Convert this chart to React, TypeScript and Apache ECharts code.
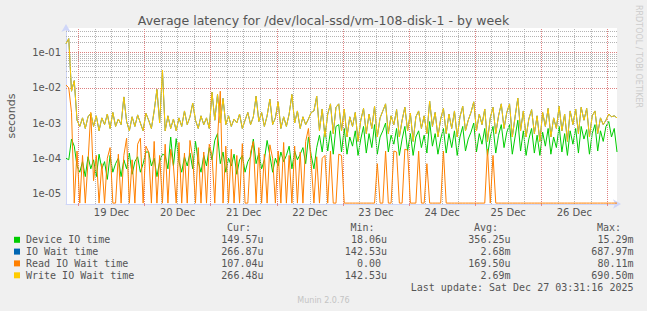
import React, { useEffect, useRef } from "react";
import * as echarts from "echarts";

const TITLE = "Average latency for /dev/local-ssd/vm-108-disk-1 - by week";
const Y_NAME = "seconds";
const DAY_LABELS = ["19 Dec", "20 Dec", "21 Dec", "22 Dec", "23 Dec", "24 Dec", "25 Dec", "26 Dec"];
// hours relative to 19 Dec 00:00
const DAY_LABEL_HOURS = [12, 36, 60, 84, 108, 132, 156, 180];
const MIDNIGHT_HOURS = [0, 24, 48, 72, 96, 120, 144, 168, 192];
const SIX_HOUR_MARKS = [6, 12, 18, 30, 36, 42, 54, 60, 66, 78, 84, 90, 102, 108, 114, 126, 132, 138, 150, 156, 162, 174, 180, 186];
const Y_TICKS = [1e-5, 1e-4, 1e-3, 1e-2, 1e-1];
const X_MIN = -4.5;
const X_MAX = 195.5;
const Y_MIN = 5e-6;
const Y_MAX = 0.5;
const FIRST_SAMPLE_HOUR = -4.5;
const SAMPLE_STEP_HOURS = 1;

const deviceIo = [
  1.0e-4, 9e-5, 3.5e-4, 2.2e-4, 6e-5, 4e-5, 8e-5, 3e-5, 1.1e-4, 5e-5,
  9e-5, 3e-5, 1.3e-4, 5e-5, 8e-5, 2.5e-5, 1.2e-4, 4e-5, 7e-5, 1.0e-4,
  3e-5, 9e-5, 5e-5, 1.4e-4, 3.5e-5, 8e-5, 1.1e-4, 4e-5, 7e-5, 1.5e-4,
  1.5e-4, 6e-5, 1.0e-4, 3e-5, 8e-5, 1.3e-4, 1.2e-4, 5e-5, 4e-4, 6e-5,
  3.6e-4, 8e-5, 4e-5, 1.1e-4, 6e-5, 1.4e-4, 5e-5, 3e-4, 8e-5, 4e-5,
  1.2e-4, 6e-5, 2e-4, 9e-5, 3.2e-4, 5e-4, 7e-5, 1.5e-4, 4e-5, 1.0e-4,
  6e-5, 1.3e-4, 3.5e-5, 9e-5, 1.2e-4, 4e-5, 8e-5, 1.1e-4, 3.5e-4, 7e-5,
  1.4e-4, 5e-5, 9e-5, 3.2e-4, 1.2e-4, 4e-5, 1.0e-4, 6e-5, 1.5e-4, 8e-5,
  1.2e-4, 2.2e-4, 5e-5, 1.6e-4, 9e-5, 1.3e-4, 2e-4, 7e-5, 4e-4, 1.2e-4,
  5e-5, 2.0e-4, 4.5e-4, 1.5e-4, 7e-4, 1.6e-4, 6e-4, 1.3e-4, 8e-4, 9e-4,
  1.5e-4, 7e-4, 1.3e-4, 4e-4, 2.2e-4, 6e-4, 1.2e-4, 3.5e-4, 8e-4, 1.4e-4,
  5e-4, 2e-4, 9e-4, 1.3e-4, 4e-4, 6e-4, 1.0e-3, 1.5e-4, 4.5e-4, 2.5e-4,
  7e-4, 1.2e-4, 3.5e-4, 8e-4, 1.6e-4, 5e-4, 1.2e-4, 4e-4, 6e-4, 2e-4,
  4.5e-4, 1.4e-4, 1.1e-3, 2.2e-4, 5e-4, 1.3e-4, 3.5e-4, 7e-4, 1.4e-4, 5e-4,
  2e-4, 6e-4, 1.2e-4, 4e-4, 8e-4, 1.6e-4, 3.5e-4, 5.5e-4, 1.0e-3, 1.5e-4,
  5e-4, 2.5e-4, 7e-4, 1.2e-4, 4e-4, 8e-4, 1.4e-4, 4.5e-4, 9e-4, 2e-4,
  5.5e-4, 9e-4, 1.3e-4, 4e-4, 1.2e-3, 1.6e-4, 6e-4, 1.2e-4, 3.5e-4, 7e-4,
  1.4e-4, 4.5e-4, 1.2e-4, 5.5e-4, 2.2e-4, 7e-4, 1.3e-4, 4e-4, 2e-4, 8e-4,
  1.5e-4, 5e-4, 1.2e-4, 6e-4, 2.5e-4, 7e-4, 1.4e-4, 8e-4, 3.5e-4, 6.5e-4,
  1.3e-4, 5e-4, 9e-4, 1.6e-4, 6e-4, 3e-4, 8e-4, 1.1e-3, 4e-4, 7e-4, 1.5e-4,
];

const ioWait = [
  1.8e-1, 2.5e-1, 8e-3, 1.6e-2, 1.2e-3, 8e-4, 1.4e-3, 7e-4, 1.5e-3, 1.9e-3,
  8e-4, 1.6e-3, 6e-4, 1.4e-3, 9e-4, 1.8e-3, 7e-4, 2.0e-3, 8e-4, 1.3e-3,
  9e-4, 5.5e-3, 1.1e-3, 6e-4, 1.5e-3, 8e-4, 1.7e-3, 1.0e-3, 6e-4, 1.9e-3,
  1.2e-3, 7e-4, 2.2e-3, 9e-3, 1.0e-3, 3.2e-2, 6e-4, 1.6e-3, 7e-4, 1.3e-3,
  6e-4, 1.4e-3, 8e-4, 2.2e-3, 9e-4, 1.5e-3, 3.7e-3, 1.2e-3, 7e-4, 1.6e-3,
  9e-4, 1.4e-3, 7e-4, 7.5e-3, 1.2e-3, 6.5e-3, 1.0e-3, 5e-3, 9e-4, 1.6e-3,
  8e-4, 1.3e-3, 1.0e-3, 1.8e-3, 7e-4, 1.2e-3, 2.0e-3, 9e-4, 1.5e-3, 5.8e-3,
  1.1e-3, 2.0e-3, 8e-4, 1.6e-3, 4.8e-3, 9e-4, 1.4e-3, 4.0e-3, 7e-4, 1.5e-3,
  8e-4, 1.8e-3, 6.5e-3, 1.0e-3, 2.2e-3, 7e-4, 1.5e-3, 9e-4, 1.3e-3, 2.0e-3,
  2.2e-3, 5.8e-3, 6e-4, 2.5e-3, 4e-4, 1.8e-3, 3.5e-3, 5e-4, 2.8e-3, 3.5e-3,
  6e-4, 2.5e-3, 4e-4, 1.5e-3, 8e-4, 2.0e-3, 3e-4, 1.2e-3, 2.6e-3, 5e-4,
  1.8e-3, 7e-4, 3.0e-3, 4e-4, 1.4e-3, 2.2e-3, 3.5e-3, 5e-4, 1.6e-3, 9e-4,
  2.4e-3, 4e-4, 1.2e-3, 2.8e-3, 6e-4, 1.9e-3, 3e-4, 1.5e-3, 2.2e-3, 7e-4,
  1.6e-3, 5e-4, 4.2e-3, 8e-4, 2.0e-3, 4e-4, 1.3e-3, 2.6e-3, 5e-4, 1.8e-3,
  7e-4, 2.2e-3, 4e-4, 1.5e-3, 3.0e-3, 6e-4, 1.2e-3, 2.0e-3, 4.0e-3, 6e-4,
  1.8e-3, 9e-4, 2.5e-3, 3e-4, 1.4e-3, 2.8e-3, 5e-4, 1.6e-3, 3.5e-3, 7e-4,
  2.0e-3, 3.5e-3, 4e-4, 1.5e-3, 5.1e-3, 6e-4, 2.2e-3, 4e-4, 1.3e-3, 2.4e-3,
  5e-4, 1.6e-3, 3e-4, 2.0e-3, 8e-4, 2.6e-3, 4e-4, 1.4e-3, 7e-4, 3.0e-3,
  6e-4, 1.8e-3, 3e-4, 2.2e-3, 9e-4, 2.5e-3, 5e-4, 2.8e-3, 1.2e-3, 2.6e-3,
  4e-4, 1.6e-3, 2.2e-3, 5e-4, 1.4e-3, 9e-4, 1.2e-3, 1.8e-3, 1.5e-3, 1.6e-3, 1.4e-3,
];

const readIoWait = [
  1.2e-2, 1.0e-2, 2e-3, 0, 1.6e-4, 0, 1.2e-4, 0, 8e-5, 2e-3,
  2.3e-5, 1.2e-4, 0, 7e-5, 0, 1e-4, 2e-4, 0, 0, 1.3e-4,
  0, 1.2e-4, 3.7e-4, 0, 9e-5, 0, 2.5e-4, 3.7e-4, 0, 2.2e-4,
  1.5e-4, 0, 3e-4, 0, 1.2e-4, 0, 2.5e-4, 0, 1.8e-4, 6e-5,
  0, 2.8e-4, 0, 1.4e-4, 0, 3.2e-4, 1.0e-4, 0, 2.0e-4, 0,
  1.5e-4, 0, 2.5e-4, 1.2e-4, 0, 3.5e-4, 8e-3, 0, 2.2e-4, 0,
  1.8e-4, 0, 1.2e-4, 0, 2.6e-4, 0, 0, 1.5e-4, 3e-4, 0,
  2e-4, 0, 1.3e-4, 0, 2.4e-4, 1e-4, 0, 1.6e-4, 0, 2.8e-4,
  0, 1.2e-4, 0, 2.2e-4, 0, 1.5e-4, 0, 3e-4, 7e-4, 7e-5,
  0, 1.1e-4, 0, 1.0e-4, 1.2e-4, 0, 1.6e-4, 0, 0, 1.3e-4,
  1.2e-4, 0, 0, 0, 0, 0, 0, 0, 0, 0,
  0, 0, 0, 7e-5, 0, 0, 1.6e-4, 0, 0, 1.6e-4,
  1.5e-4, 0, 0, 1.8e-4, 1.7e-4, 0, 0, 0, 1.6e-4, 0,
  0, 7e-5, 0, 0, 0, 0, 0, 1.6e-4, 0, 0,
  0, 0, 0, 0, 0, 0, 0, 0, 0, 0,
  0, 0, 0, 1.8e-4, 0, 1.2e-4, 0, 0, 0, 0,
  0, 0, 0, 0, 0, 0, 0, 0, 0, 0,
  0, 0, 0, 0, 0, 0, 0, 0, 0, 0,
  0, 0, 0, 0, 0, 0, 0, 0, 0, 0,
  0, 0, 0, 0, 0, 0, 0, 0, 0, 0, 0,
];

const writeIoWait = [
  1.8e-1, 2.5e-1, 8e-3, 1.6e-2, 1.2e-3, 8e-4, 1.4e-3, 7e-4, 1.5e-3, 1.9e-3,
  8e-4, 1.6e-3, 6e-4, 1.4e-3, 9e-4, 1.8e-3, 7e-4, 2.0e-3, 8e-4, 1.3e-3,
  9e-4, 5.5e-3, 1.1e-3, 6e-4, 1.5e-3, 8e-4, 1.7e-3, 1.0e-3, 6e-4, 1.9e-3,
  1.2e-3, 7e-4, 2.2e-3, 9e-3, 1.0e-3, 3.2e-2, 6e-4, 1.6e-3, 7e-4, 1.3e-3,
  6e-4, 1.4e-3, 8e-4, 2.2e-3, 9e-4, 1.5e-3, 3.7e-3, 1.2e-3, 7e-4, 1.6e-3,
  9e-4, 1.4e-3, 7e-4, 7.5e-3, 1.2e-3, 6.5e-3, 1.0e-3, 5e-3, 9e-4, 1.6e-3,
  8e-4, 1.3e-3, 1.0e-3, 1.8e-3, 7e-4, 1.2e-3, 2.0e-3, 9e-4, 1.5e-3, 5.8e-3,
  1.1e-3, 2.0e-3, 8e-4, 1.6e-3, 4.8e-3, 9e-4, 1.4e-3, 4.0e-3, 7e-4, 1.5e-3,
  8e-4, 1.8e-3, 6.5e-3, 1.0e-3, 2.2e-3, 7e-4, 1.5e-3, 9e-4, 1.3e-3, 2.0e-3,
  2.2e-3, 5.8e-3, 6e-4, 2.5e-3, 4e-4, 1.8e-3, 3.5e-3, 5e-4, 2.8e-3, 3.5e-3,
  6e-4, 2.5e-3, 4e-4, 1.5e-3, 8e-4, 2.0e-3, 3e-4, 1.2e-3, 2.6e-3, 5e-4,
  1.8e-3, 7e-4, 3.0e-3, 4e-4, 1.4e-3, 2.2e-3, 3.5e-3, 5e-4, 1.6e-3, 9e-4,
  2.4e-3, 4e-4, 1.2e-3, 2.8e-3, 6e-4, 1.9e-3, 3e-4, 1.5e-3, 2.2e-3, 7e-4,
  1.6e-3, 5e-4, 4.2e-3, 8e-4, 2.0e-3, 4e-4, 1.3e-3, 2.6e-3, 5e-4, 1.8e-3,
  7e-4, 2.2e-3, 4e-4, 1.5e-3, 3.0e-3, 6e-4, 1.2e-3, 2.0e-3, 4.0e-3, 6e-4,
  1.8e-3, 9e-4, 2.5e-3, 3e-4, 1.4e-3, 2.8e-3, 5e-4, 1.6e-3, 3.5e-3, 7e-4,
  2.0e-3, 3.5e-3, 4e-4, 1.5e-3, 5.1e-3, 6e-4, 2.2e-3, 4e-4, 1.3e-3, 2.4e-3,
  5e-4, 1.6e-3, 3e-4, 2.0e-3, 8e-4, 2.6e-3, 4e-4, 1.4e-3, 7e-4, 3.0e-3,
  6e-4, 1.8e-3, 3e-4, 2.2e-3, 9e-4, 2.5e-3, 5e-4, 2.8e-3, 1.2e-3, 2.6e-3,
  4e-4, 1.6e-3, 2.2e-3, 5e-4, 1.4e-3, 9e-4, 1.2e-3, 1.8e-3, 1.5e-3, 1.6e-3, 1.4e-3,
];

const SERIES_NAMES = ["Device IO time", "IO Wait time", "Read IO Wait time", "Write IO Wait time"];
const SERIES_COLORS = ["#00CC00", "#0066B3", "#FF8000", "#FFCC00"];
const LEGEND_HEADERS = ["Cur:", "Min:", "Avg:", "Max:"];
const CUR = ["149.57u", "266.87u", "107.04u", "266.48u"];
const MIN = ["18.06u", "142.53u", "0.00", "142.53u"];
const AVG = ["356.25u", "2.68m", "169.50u", "2.69m"];
const MAX = ["15.29m", "687.97m", "80.11m", "690.50m"];
const LAST_UPDATE = "Last update: Sat Dec 27 03:31:16 2025";
const FOOTER = "Munin 2.0.76";
const SIDE_TEXT = "RRDTOOL / TOBI OETIKER";

// zero readings are drawn on the lower edge of the log graph, like rrdtool does
const ZERO_FLOOR = 5.3e-6;

const FONT = "DejaVu Sans";
const MONO = '10px "DejaVu Sans Mono"';
const TEXT_COLOR = "#555555";
const AXIS_COLOR = "#CFD6F8";

function toPoints(arr: number[]) {
  return arr.map((v, i) => [FIRST_SAMPLE_HOUR + i * SAMPLE_STEP_HOURS, v <= 0 ? ZERO_FLOOR : v]);
}

function buildOption() {
  const minorH: any[] = [];
  const majorH: any[] = [];
  for (let d = -6; d <= -1; d++) {
    for (let k = 2; k <= 9; k++) {
      const v = k * Math.pow(10, d);
      if (v > Y_MIN && v < Y_MAX) minorH.push({ yAxis: v });
    }
  }
  Y_TICKS.forEach((v) => majorH.push({ yAxis: v }));
  const minorV = SIX_HOUR_MARKS.map((h) => ({ xAxis: h }));
  const majorV = MIDNIGHT_HOURS.map((h) => ({ xAxis: h }));

  const gridSeries = (data: any[], color: string) => ({
    type: "line",
    data: [],
    silent: true,
    z: 1,
    markLine: {
      silent: true,
      animation: false,
      symbol: ["none", "none"],
      label: { show: false },
      emphasis: { disabled: true },
      lineStyle: { color, width: 1, type: [1, 1], opacity: 1 },
      data,
    },
  });

  const dataSets = [deviceIo, ioWait, readIoWait, writeIoWait];
  const dataSeries = dataSets.map((arr, i) => ({
    type: "line",
    name: SERIES_NAMES[i],
    data: toPoints(arr),
    symbol: "none",
    showSymbol: false,
    silent: true,
    z: 3 + i,
    lineStyle: { width: 1, color: SERIES_COLORS[i] },
    itemStyle: { color: SERIES_COLORS[i] },
  }));

  const rowY = [239.8, 251.6, 263.4, 275.3];
  const colRight = [263.5, 387, 510.5, 633.5];
  const columns = [CUR, MIN, AVG, MAX];
  const graphics: any[] = [];
  LEGEND_HEADERS.forEach((h, c) => {
    graphics.push({
      type: "text",
      x: colRight[c] - 12.5,
      y: 227.6,
      style: { text: h, font: MONO, fill: TEXT_COLOR, align: "right", textAlign: "right", verticalAlign: "middle", textVerticalAlign: "middle" },
    });
  });
  SERIES_NAMES.forEach((name, i) => {
    graphics.push({
      type: "rect",
      shape: { x: 14, y: rowY[i] - 3, width: 6, height: 6 },
      style: { fill: SERIES_COLORS[i] },
    });
    graphics.push({
      type: "text",
      x: 26,
      y: rowY[i],
      style: { text: name, font: MONO, fill: TEXT_COLOR, align: "left", textAlign: "left", verticalAlign: "middle", textVerticalAlign: "middle" },
    });
    columns.forEach((col, c) => {
      const s = col[i];
      const hasUnit = /[a-zA-Z]$/.test(s);
      graphics.push({
        type: "text",
        x: colRight[c] - (hasUnit ? 0 : 6),
        y: rowY[i],
        style: { text: s, font: MONO, fill: TEXT_COLOR, align: "right", textAlign: "right", verticalAlign: "middle", textVerticalAlign: "middle" },
      });
    });
  });
  graphics.push({
    type: "text",
    x: 633.5,
    y: 287.6,
    style: { text: LAST_UPDATE, font: MONO, fill: TEXT_COLOR, align: "right", textAlign: "right", verticalAlign: "middle", textVerticalAlign: "middle" },
  });
  graphics.push({
    type: "text",
    x: 323.5,
    y: 300,
    style: { text: FOOTER, font: `8px "${FONT}"`, fill: "#c4c4c4", align: "center", textAlign: "center", verticalAlign: "middle", textVerticalAlign: "middle" },
  });
  graphics.push({
    type: "text",
    x: 638,
    y: 5,
    rotation: -Math.PI / 2,
    style: { text: SIDE_TEXT, font: `8px "${FONT}"`, fill: "#cccccc", align: "left", textAlign: "left", verticalAlign: "middle", textVerticalAlign: "middle" },
  });

  const fmtExp = (v: number) => {
    const e = Math.round(Math.log10(v));
    return "1e" + (e < 0 ? "-" : "+") + String(Math.abs(e)).padStart(2, "0");
  };

  return {
    animation: false,
    backgroundColor: "#F0F0F0",
    title: {
      text: TITLE,
      left: "center",
      top: 14,
      padding: 0,
      textStyle: { fontSize: 12.5, fontWeight: "normal", color: TEXT_COLOR, fontFamily: FONT },
    },
    grid: {
      left: 66,
      top: 28,
      width: 551,
      height: 176,
      show: true,
      backgroundColor: "#FFFFFF",
      borderWidth: 0,
      containLabel: false,
      outerBoundsMode: "none",
    },
    xAxis: {
      type: "value",
      min: X_MIN,
      max: X_MAX,
      axisLine: {
        show: true,
        onZero: false,
        lineStyle: { color: AXIS_COLOR, width: 1 },
        symbol: ["none", "arrow"],
        symbolSize: [7, 8],
        symbolOffset: [0, 4],
      },
      axisTick: { show: true, customValues: MIDNIGHT_HOURS, length: 2, lineStyle: { color: "#e08a8a" } },
      axisLabel: {
        customValues: DAY_LABEL_HOURS,
        formatter: (v: number) => DAY_LABELS[Math.round((v - 12) / 24)] ?? "",
        color: TEXT_COLOR,
        fontSize: 10,
        fontFamily: FONT,
        margin: 3,
      },
      splitLine: { show: false },
    },
    yAxis: {
      type: "log",
      logBase: 10,
      min: Y_MIN,
      max: Y_MAX,
      name: Y_NAME,
      nameLocation: "middle",
      nameGap: 49,
      nameTextStyle: { color: TEXT_COLOR, fontSize: 11, fontFamily: FONT },
      axisLine: {
        show: true,
        onZero: false,
        lineStyle: { color: AXIS_COLOR, width: 1 },
        symbol: ["none", "arrow"],
        symbolSize: [7, 8],
        symbolOffset: [0, 4],
      },
      axisTick: { show: false },
      axisLabel: {
        customValues: Y_TICKS,
        formatter: fmtExp,
        color: TEXT_COLOR,
        fontSize: 10,
        fontFamily: FONT,
        margin: 5,
      },
      splitLine: { show: false },
      minorTick: { show: false },
      minorSplitLine: { show: false },
    },
    graphic: graphics,
    series: [
      gridSeries([...minorH, ...minorV], "#b4b4b4"),
      gridSeries([...majorH, ...majorV], "#dd8080"),
      ...dataSeries,
    ],
  };
}

export default function App() {
  const ref = useRef<HTMLDivElement>(null);
  useEffect(() => {
    document.body.style.margin = "0";
    if (!ref.current) return;
    const chart = echarts.init(ref.current, undefined, { renderer: "svg" });
    chart.setOption(buildOption() as any);
    return () => chart.dispose();
  }, []);
  return <div ref={ref} style={{ width: 647, height: 311 }} />;
}
